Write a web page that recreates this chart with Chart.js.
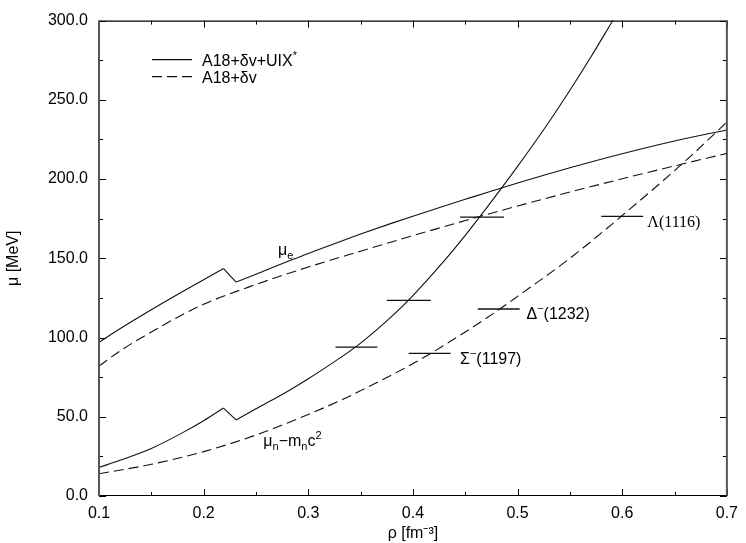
<!DOCTYPE html>
<html>
<head>
<meta charset="utf-8">
<script src="https://cdn.jsdelivr.net/npm/chart.js@4/dist/chart.umd.min.js"></script>
<style>
  html, body { margin: 0; padding: 0; background: #fff; }
</style>
</head>
<body>
<canvas id="muChart" width="746" height="543"></canvas>
<script>
// A18+dv+UIX* (solid); both curves have a kink between rho 0.219 and 0.231
const rhoUixE = [0.10, 0.12, 0.15, 0.18, 0.20, 0.219, 0.231, 0.25, 0.28, 0.30, 0.33, 0.35, 0.38, 0.40, 0.43, 0.45, 0.47, 0.50, 0.53, 0.55, 0.57, 0.60, 0.65, 0.70];
const muEUix = [97, 105.5, 117.5, 129, 136.5, 143.5, 135, 140, 148, 153, 160.5, 165.3, 172.2, 176.6, 183, 187.2, 191.4, 197.5, 203.3, 207.1, 210.8, 216, 224, 231];
const rhoUixN = [0.10, 0.12, 0.15, 0.18, 0.20, 0.219, 0.231, 0.25, 0.28, 0.30, 0.33, 0.35, 0.38, 0.40, 0.43, 0.45, 0.47, 0.50, 0.53, 0.55, 0.57, 0.59, 0.60];
const muNUix = [18, 22.5, 30, 40, 47.5, 55.5, 48, 55, 66, 74, 87, 96.5, 113.5, 126.5, 148.5, 164.5, 181.5, 208, 236, 256, 277, 299, 310];
const kinkAt = 5;

// A18+dv (dashed)
const rhoDvE = [0.10, 0.12, 0.15, 0.177, 0.20, 0.25, 0.30, 0.35, 0.40, 0.45, 0.50, 0.55, 0.60, 0.65, 0.70];
const muEDv = [82, 91.5, 103.5, 113.5, 121, 133.5, 144.5, 154.5, 164.3, 173.8, 183, 191.8, 200.2, 208.3, 216.2];
const rhoDvN = [0.10, 0.15, 0.20, 0.25, 0.30, 0.333, 0.35, 0.40, 0.417, 0.45, 0.483, 0.50, 0.55, 0.60, 0.663, 0.70];
const muNDv = [14, 20, 28, 38.5, 51.5, 61, 66.5, 83.5, 90, 103.5, 118, 126, 150, 177, 213, 236];

// hyperon / delta threshold bars
const barLevel = [94, 123.5, 176, 90, 118, 176.5];
const barFrom = [0.326, 0.375, 0.445, 0.396, 0.462, 0.58];
const barTo = [0.366, 0.417, 0.487, 0.436, 0.502, 0.62];

const pts = (xs, ys) => xs.map((x, i) => ({ x: x, y: ys[i] }));

const ink = '#111';
const dash = [10, 5];

const datasets = [];
// solid curves: smooth on each side of the kink, straight across it
[[rhoUixE, muEUix], [rhoUixN, muNUix]].forEach(([xs, ys]) => {
  const all = pts(xs, ys);
  datasets.push({ data: all.slice(0, kinkAt + 1), borderColor: ink, cubicInterpolationMode: 'monotone' });
  datasets.push({ data: all.slice(kinkAt, kinkAt + 2), borderColor: ink });
  datasets.push({ data: all.slice(kinkAt + 1), borderColor: ink, cubicInterpolationMode: 'monotone' });
});
datasets.push({ data: pts(rhoDvE, muEDv), borderColor: ink, borderDash: dash, cubicInterpolationMode: 'monotone' });
datasets.push({ data: pts(rhoDvN, muNDv), borderColor: ink, borderDash: dash, cubicInterpolationMode: 'monotone' });
barLevel.forEach((lv, i) => {
  datasets.push({ data: [{ x: barFrom[i], y: lv }, { x: barTo[i], y: lv }], borderColor: ink, borderWidth: 1.3 });
});

// text labels placed in data coords (baseline)
const notes = [
  { x: 0.271, y: 152, parts: [['μ'], ['e', 'sub']] },
  { x: 0.257, y: 31.5, parts: [['μ'], ['n', 'sub'], ['−m'], ['n', 'sub'], ['c'], ['2', 'sup']] },
  { x: 0.445, y: 83, parts: [['Σ'], ['−', 'sup'], ['(1197)']] },
  { x: 0.5085, y: 111.5, parts: [['Δ'], ['−', 'sup'], ['(1232)']] },
  { x: 0.624, y: 169.5, parts: [['Λ(1116)']], serif: true }
];

const sans = '"Liberation Sans", Arial, Helvetica, sans-serif';
const serif = '"Liberation Serif", "Times New Roman", serif';

function rich(ctx, parts, x, y, family, size) {
  let cx = x;
  parts.forEach(p => {
    const small = p[1] ? Math.round(size * 0.68) : size;
    ctx.font = small + 'px ' + family;
    const dy = p[1] === 'sub' ? 4 : (p[1] === 'sup' ? -7 : 0);
    ctx.fillText(p[0], cx, y + dy);
    cx += ctx.measureText(p[0]).width;
  });
}

const framePlugin = {
  id: 'frame',
  afterDatasetsDraw(chart) {
    const { ctx, chartArea: a, scales } = chart;
    const xs = scales.x, ys = scales.y;
    ctx.save();
    ctx.strokeStyle = '#000';
    ctx.lineWidth = 1;
    const seg = (x1, y1, x2, y2) => { ctx.beginPath(); ctx.moveTo(x1, y1); ctx.lineTo(x2, y2); ctx.stroke(); };

    // y ticks (major + half-step minor), inward on both sides
    const yt = ys.ticks.map(t => t.value);
    yt.forEach((v, i) => {
      const vals = [[v, 7]];
      if (i < yt.length - 1) vals.push([(v + yt[i + 1]) / 2, 4]);
      vals.forEach(([val, len]) => {
        const p = Math.round(ys.getPixelForValue(val)) + 0.5;
        seg(a.left, p, a.left + len, p);
        seg(a.right - len, p, a.right, p);
      });
    });
    const xt = xs.ticks.map(t => t.value);
    xt.forEach((v, i) => {
      const vals = [[v, 7]];
      if (i < xt.length - 1) vals.push([(v + xt[i + 1]) / 2, 4]);
      vals.forEach(([val, len]) => {
        const p = Math.round(xs.getPixelForValue(val)) + 0.5;
        seg(p, a.bottom, p, a.bottom - len);
        seg(p, a.top, p, a.top + len);
      });
    });

    // box
    ctx.strokeStyle = '#000';
    ctx.lineWidth = 1.2;
    seg(a.left, a.top + 0.5, a.right, a.top + 0.5);
    seg(a.left, a.bottom - 0.5, a.right, a.bottom - 0.5);
    ctx.strokeStyle = '#555';
    ctx.lineWidth = 2;
    seg(a.left, a.top, a.left, a.bottom);
    seg(a.right, a.top, a.right, a.bottom);

    // curve labels
    ctx.fillStyle = '#000';
    ctx.textBaseline = 'alphabetic';
    ctx.textAlign = 'left';
    notes.forEach(n => {
      rich(ctx, n.parts, xs.getPixelForValue(n.x), ys.getPixelForValue(n.y), n.serif ? serif : sans, 16);
    });

    // legend
    const lx = a.left + 53, ly = a.top + 39;
    ctx.strokeStyle = ink;
    ctx.lineWidth = 1.2;
    seg(lx, ly, lx + 40, ly);
    ctx.setLineDash(dash);
    seg(lx, ly + 17, lx + 40, ly + 17);
    ctx.setLineDash([]);
    rich(ctx, [['A18+δv+UIX'], ['*', 'sup']], lx + 50, ly + 6, sans, 16);
    rich(ctx, [['A18+δv']], lx + 50, ly + 23, sans, 16);
    ctx.restore();
  }
};

const tickFont = { family: sans, size: 16 };

new Chart(document.getElementById('muChart').getContext('2d'), {
  type: 'line',
  data: { datasets: datasets },
  options: {
    responsive: false,
    animation: false,
    parsing: false,
    layout: { padding: { top: 15, right: 14, left: 0, bottom: 0 } },
    elements: {
      point: { radius: 0 },
      line: { tension: 0, borderWidth: 1.1, fill: false }
    },
    plugins: {
      legend: { display: false },
      tooltip: { enabled: false }
    },
    scales: {
      x: {
        type: 'linear',
        min: 0.1,
        max: 0.7,
        ticks: { stepSize: 0.1, callback: v => v.toFixed(1), color: '#000', font: tickFont, padding: 8, maxRotation: 0 },
        grid: { display: false, drawTicks: false },
        border: { display: false },
        title: { display: true, text: 'ρ [fm⁻³]', color: '#000', font: tickFont, padding: { top: 0, bottom: 0 } },
        afterFit: s => { s.height = 47; }
      },
      y: {
        type: 'linear',
        min: 0,
        max: 300,
        ticks: { stepSize: 50, callback: v => v.toFixed(1), color: '#000', font: tickFont, padding: 11 },
        grid: { display: false, drawTicks: false },
        border: { display: false },
        title: { display: true, text: 'μ [MeV]', color: '#000', font: tickFont, padding: { top: 4, bottom: 0 } },
        afterFit: s => { s.width = 99; }
      }
    }
  },
  plugins: [framePlugin]
});
</script>
</body>
</html>
